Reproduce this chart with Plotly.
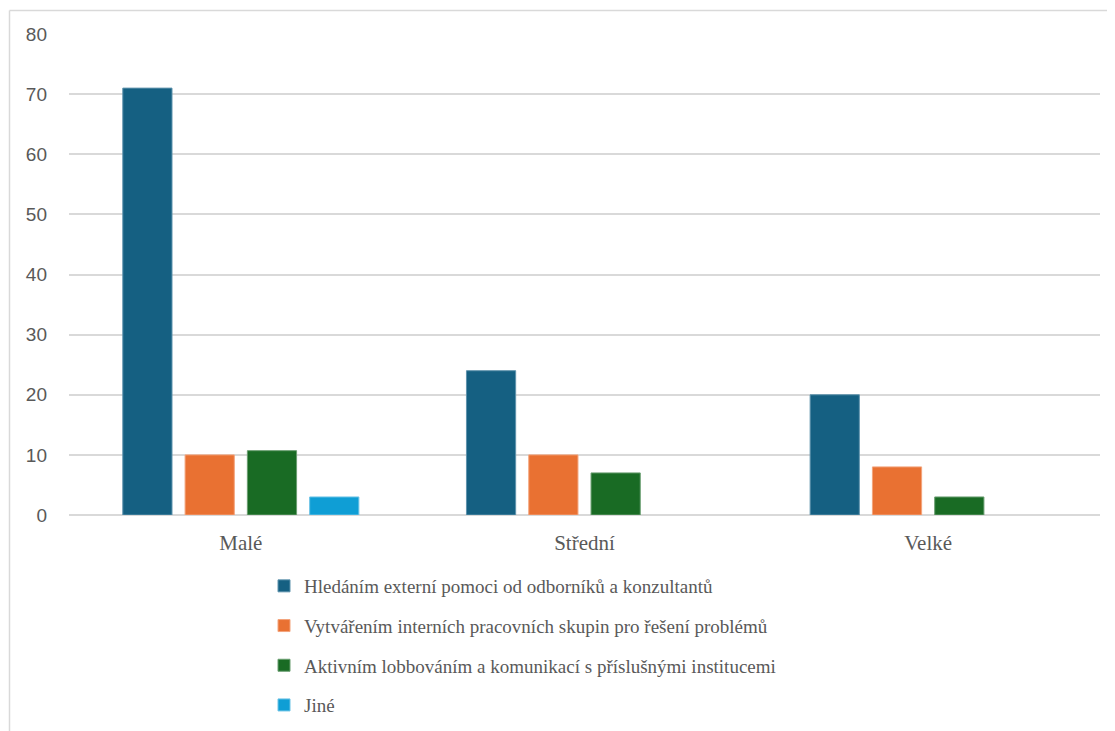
import plotly.graph_objects as go

categories = ["Malé", "Střední", "Velké"]
series_names = [
    "Hledáním externí pomoci od odborníků a konzultantů",
    "Vytvářením interních pracovních skupin pro řešení problémů",
    "Aktivním lobbováním a komunikací s příslušnými institucemi",
    "Jiné",
]
externi = [71, 24, 20]
interni = [10, 10, 8]
lobby = [10.7, 7, 3]
jine = [3, None, None]
colors = ["#156082", "#E97132", "#196B24", "#0F9ED5"]
edge_colors = ["#5f93ad", "#f3a47c", "#6a9e70", "#6cc3e6"]
y_ticks = [0, 10, 20, 30, 40, 50, 60, 70, 80]

# page body has an 8px margin; figure is sized to fit the window
W, H = 1107, 723
L, R, T, B = 61, 15, 26, 216
pw, ph = W - L - R, H - T - B

fig = go.Figure()
for i, (name, vals) in enumerate(zip(series_names, [externi, interni, lobby, jine])):
    fig.add_trace(go.Bar(
        x=categories, y=vals, name=name,
        marker=dict(color=colors[i], line=dict(color=edge_colors[i], width=1)),
        legendgroup=f"g{i}",
    ))

fig.update_layout(
    width=W, height=H,
    margin=dict(l=L, r=R, t=T, b=B, pad=0, autoexpand=False),
    paper_bgcolor="white", plot_bgcolor="white",
    barmode="group", bargap=0.275, bargroupgap=0.21,
    showlegend=True,
    legend=dict(
        orientation="v", x=(256 - L) / pw, xanchor="left",
        y=(H - B - 559) / ph, yanchor="top",
        font=dict(family="Liberation Serif", size=19, color="#595959"),
        tracegroupgap=12, itemwidth=30,
    ),
    xaxis=dict(
        showgrid=False, showline=False, zeroline=False, ticks="",
        tickfont=dict(family="Liberation Serif", size=21, color="#595959"),
        ticklabelstandoff=13,
    ),
    yaxis=dict(
        range=[0, 80], tickvals=y_ticks, showgrid=True, gridcolor="#d9d9d9", gridwidth=1.5,
        zeroline=True, zerolinecolor="#d9d9d9", zerolinewidth=1.5,
        showline=False, ticks="",
        tickfont=dict(family="Liberation Sans", size=19, color="#595959"),
        ticklabelstandoff=21,
    ),
    shapes=[
        dict(type="line", xref="paper", yref="paper",
             x0=(1.5 - L) / pw, x1=(W + 5 - L) / pw,
             y0=(H - B - 2.5) / ph, y1=(H - B - 2.5) / ph,
             line=dict(color="#d9d9d9", width=1.5)),
        dict(type="line", xref="paper", yref="paper",
             x0=(1.5 - L) / pw, x1=(1.5 - L) / pw,
             y0=(H - B - 2.5) / ph, y1=(H - B - H - 5) / ph,
             line=dict(color="#d9d9d9", width=1.5)),
    ],
)

fig.write_html("out.html")
